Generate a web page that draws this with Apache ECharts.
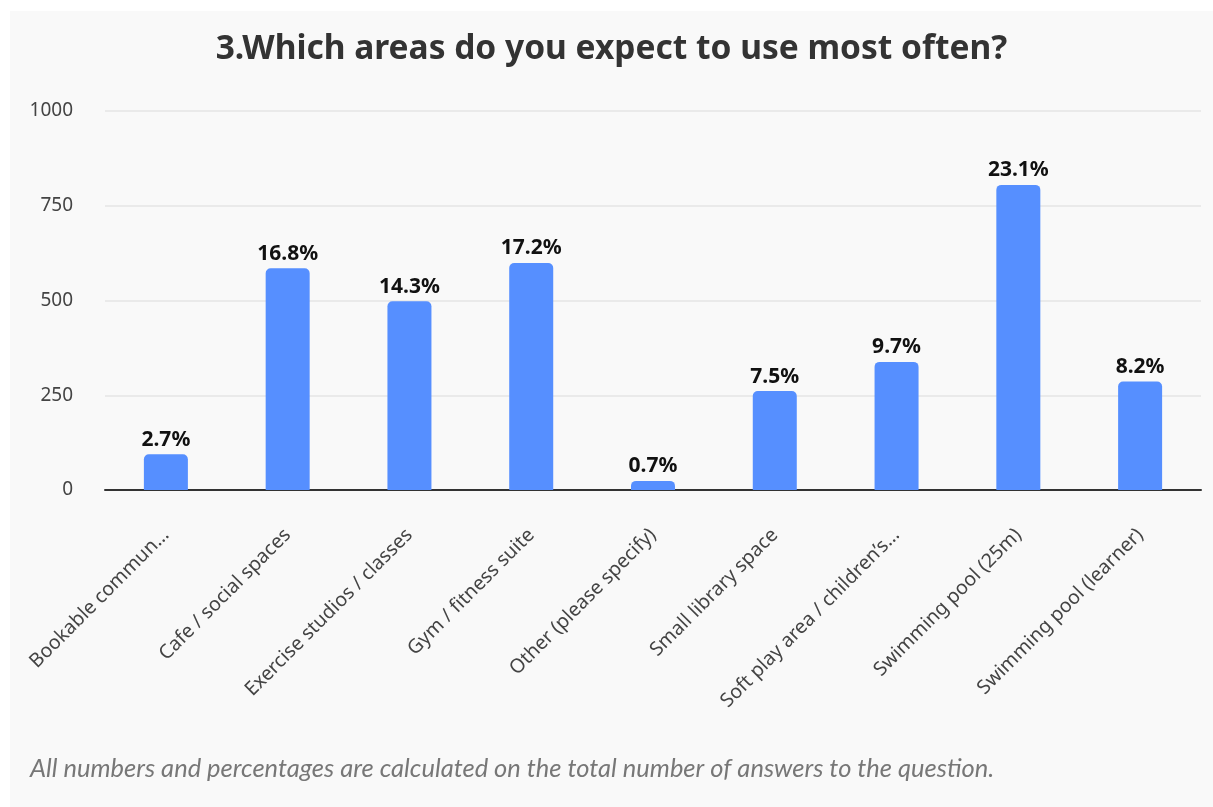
<!DOCTYPE html>
<html>
<head>
<meta charset="utf-8">
<script src="https://cdn.jsdelivr.net/npm/echarts@6/dist/echarts.min.js"></script>
<style>
    html, body { margin: 0; padding: 0; background: #ffffff; }
    #main { position: absolute; left: 10px; top: 11px; width: 1203px; height: 796px; background: #f9f9f9; }
</style>
</head>
<body>
<div id="main"></div>
<script>
// 数据
var categories = ['Bookable commun\u2026', 'Cafe / social spaces', 'Exercise studios / classes', 'Gym / fitness suite',
    'Other (please specify)', 'Small library space', 'Soft play area / children\u2019s\u2026', 'Swimming pool (25m)', 'Swimming pool (learner)'];
var answerNums = [94, 585, 498, 599, 24, 261, 338, 805, 286];
var percentLabels = ['2.7%', '16.8%', '14.3%', '17.2%', '0.7%', '7.5%', '9.7%', '23.1%', '8.2%'];
var yTicks = [0, 250, 500, 750, 1000];

var chart = echarts.init(document.getElementById('main'), null, { renderer: 'canvas' });
var option = {
    backgroundColor: '#f9f9f9',
    animation: false,
    title: {
        text: '3.Which areas do you expect to use most often?',
        left: 'center',
        top: 16,
        textStyle: { fontFamily: 'Noto Sans', fontSize: 33.5, fontWeight: 'bold', color: '#333333' }
    },
    graphic: [{
        type: 'text',
        left: 20,
        top: 745,
        style: {
            text: 'All numbers and percentages are calculated on the total number of answers to the question.',
            font: 'italic 25.5px Lato',
            fill: '#777777'
        }
    }],
    grid: { left: 95, right: 12, top: 100, bottom: 317 },
    xAxis: {
        type: 'category',
        data: categories,
        axisTick: { show: false },
        axisLine: { lineStyle: { color: '#333333', width: 2 } },
        axisLabel: {
            rotate: 45,
            interval: 0,
            margin: 42,
            fontFamily: 'Noto Sans',
            fontSize: 19.5,
            color: '#444444'
        }
    },
    yAxis: {
        type: 'value',
        min: 0,
        max: 1000,
        interval: 250,
        axisLine: { show: false },
        axisTick: { show: false },
        axisLabel: {
            margin: 32,
            fontFamily: 'Noto Sans',
            fontSize: 19,
            color: '#444444',
            formatter: function(v) { return yTicks.indexOf(v) >= 0 ? String(v) : ''; }
        },
        splitLine: { lineStyle: { color: '#e4e4e4', width: 1.5 } }
    },
    series: [{
        type: 'bar',
        data: answerNums,
        barWidth: 44,
        itemStyle: { color: '#568fff', borderRadius: [5, 5, 0, 0] },
        label: {
            show: true,
            position: 'top',
            distance: 4,
            fontFamily: 'Noto Sans',
            fontSize: 21,
            fontWeight: 'bold',
            color: '#111111',
            formatter: function(p) { return percentLabels[p.dataIndex]; }
        }
    }]
};
chart.setOption(option);
</script>
</body>
</html>
